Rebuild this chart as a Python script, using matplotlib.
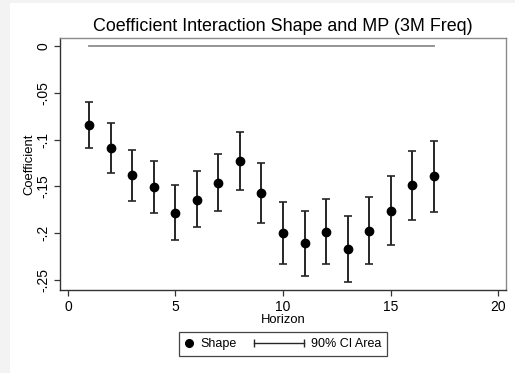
import matplotlib
matplotlib.use('Agg')
import matplotlib.pyplot as plt
from matplotlib.lines import Line2D
from matplotlib.legend_handler import HandlerLine2D
from matplotlib.patches import Rectangle

plt.rcParams['font.family'] = ['Liberation Sans', 'DejaVu Sans']

# datos
horizon = [1, 2, 3, 4, 5, 6, 7, 8, 9, 10, 11, 12, 13, 14, 15, 16, 17]
coef = [-0.0844, -0.1086, -0.1378, -0.1510, -0.1780, -0.1645, -0.1460, -0.1229, -0.1568,
        -0.1994, -0.2108, -0.1984, -0.2172, -0.1973, -0.1760, -0.1489, -0.1385]
ci_hi = [-0.0598, -0.0826, -0.1108, -0.1229, -0.1489, -0.1340, -0.1157, -0.0922, -0.1250,
         -0.1667, -0.1766, -0.1635, -0.1816, -0.1610, -0.1392, -0.1118, -0.1011]
ci_lo = [-0.1093, -0.1353, -0.1656, -0.1788, -0.2073, -0.1934, -0.1760, -0.1542, -0.1890,
         -0.2326, -0.2454, -0.2326, -0.2521, -0.2326, -0.2130, -0.1864, -0.1770]
zero_x = [1, 17]
zero_y = [0, 0]
yticks = [0, -0.05, -0.1, -0.15, -0.2, -0.25]
yticklabels = ['0', '-.05', '-.1', '-.15', '-.2', '-.25']
xticks = [0, 5, 10, 15, 20]


class ShortHandler(HandlerLine2D):
    # handle mas corto para el punto
    def legend_artist(self, legend, orig_handle, fontsize, handlebox):
        handlebox.width = 0.75 * fontsize
        return super().legend_artist(legend, orig_handle, fontsize, handlebox)


W, H = 515, 373
fig = plt.figure(figsize=(W / 100, H / 100), dpi=100, facecolor='#f3f3f3')
fig.patches.append(Rectangle((10 / W, 0), 1 - 10 / W, 1 - 3 / H, transform=fig.transFigure,
                             facecolor='white', edgecolor='none', zorder=-10))

ax = fig.add_axes([60 / W, 83 / H, 446 / W, 252 / H])

ax.plot(zero_x, zero_y, color='#8c8c8c', lw=1.3)

err_lo = [c - l for c, l in zip(coef, ci_lo)]
err_hi = [h - c for c, h in zip(coef, ci_hi)]
ax.errorbar(horizon, coef, yerr=[err_lo, err_hi], fmt='none', ecolor='#262626',
            elinewidth=1.4, capsize=2.6, capthick=1.2)
ax.plot(horizon, coef, 'o', color='black', ms=6)

ax.set_xlim(-0.37, 20.37)
ax.set_ylim(-0.2607, 0.0085)
ax.set_xticks(xticks)
ax.set_yticks(yticks)
ax.set_yticklabels(yticklabels, rotation=90, va='center')
ax.tick_params(direction='out', length=4, width=0.9, labelsize=10, color='#333333', pad=3)

for s in ['left', 'bottom']:
    ax.spines[s].set_color('#333333')
    ax.spines[s].set_linewidth(1.0)
for s in ['top', 'right']:
    ax.spines[s].set_color('#8a8a8a')
    ax.spines[s].set_linewidth(1.0)

ax.set_title('Coefficient Interaction Shape and MP (3M Freq)', fontsize=12.9, pad=5)
ax.set_xlabel('Horizon', fontsize=9.4, labelpad=0)
ax.set_ylabel('Coefficient', fontsize=9.4, labelpad=1)

h_shape = Line2D([], [], marker='o', color='black', ls='none', ms=5.5)
h_ci = Line2D([], [], marker='|', color='#262626', lw=1.0, ms=6, mew=1.0)
fig.legend([h_shape, h_ci], ['Shape', '90% CI Area'], loc='center',
           bbox_to_anchor=(283 / W, 29 / H), ncol=2, fontsize=9,
           frameon=True, fancybox=False, edgecolor='#444444', framealpha=1,
           handlelength=4.0, handletextpad=0.55, columnspacing=1.4,
           borderpad=0.45, borderaxespad=0,
           handler_map={h_shape: ShortHandler(),
                        h_ci: HandlerLine2D(numpoints=2, marker_pad=0)})
fig.legends[0].get_frame().set_linewidth(0.9)

fig.savefig('out.png', dpi=100, facecolor=fig.get_facecolor())
